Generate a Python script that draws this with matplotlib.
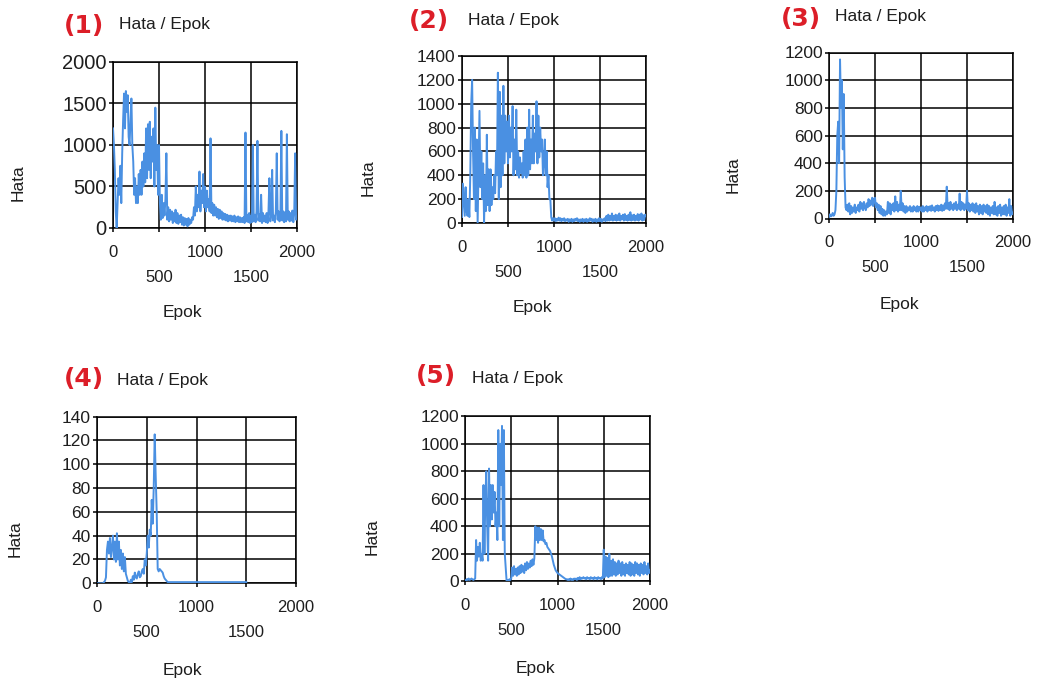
import matplotlib
matplotlib.use("Agg")
import matplotlib.pyplot as plt

plt.rcParams['font.family'] = ['Liberation Sans', 'DejaVu Sans']

# ---------------- data (one value every 10 epochs) ----------------
epochs_full = list(range(0, 2001, 10))
epochs_p4 = list(range(0, 1501, 10))

hata_1 = [1200, 1000, 700, 200, 0, 300, 600, 400, 750, 300,
          900, 1300, 1620, 1200, 1650, 1400, 1600, 1100, 1000, 1300,
          1560, 1000, 800, 400, 600, 300, 500, 300, 650, 400,
          700, 400, 800, 500, 900, 550, 1200, 600, 1250, 700,
          1280, 600, 1100, 800, 1200, 500, 1450, 700, 1000, 400,
          1000, 300, 100, 400, 120, 300, 150, 350, 900, 100,
          250, 80, 220, 100, 200, 60, 180, 80, 220, 60,
          180, 50, 150, 70, 160, 40, 130, 30, 120, 40,
          110, 20, 120, 40, 100, 60, 130, 100, 250, 150,
          500, 200, 400, 250, 680, 200, 450, 300, 650, 250,
          500, 200, 450, 250, 350, 200, 1080, 180, 300, 150,
          280, 150, 250, 130, 230, 110, 220, 120, 200, 100,
          180, 100, 170, 90, 160, 80, 150, 90, 150, 80,
          140, 80, 150, 70, 130, 80, 140, 70, 130, 70,
          120, 70, 130, 60, 1150, 80, 160, 70, 180, 60,
          150, 70, 1000, 80, 160, 70, 200, 1050, 90, 170,
          80, 400, 60, 180, 80, 150, 70, 180, 60, 200,
          600, 80, 170, 700, 90, 150, 70, 200, 900, 100,
          200, 80, 180, 1170, 90, 200, 70, 190, 80, 1130,
          100, 200, 80, 180, 90, 210, 70, 180, 900, 100,
          120]

hata_2 = [50, 330, 200, 60, 300, 100, 60, 200, 50, 400,
          1000, 1200, 600, 200, 800, 100, 700, 0, 500, 940,
          300, 600, 200, 500, 0, 400, 100, 740, 150, 450,
          100, 450, 150, 300, 200, 400, 250, 600, 400, 1260,
          200, 1100, 300, 900, 400, 1150, 500, 900, 600, 850,
          500, 900, 550, 800, 600, 980, 400, 700, 450, 950,
          400, 600, 380, 550, 420, 500, 380, 600, 400, 700,
          380, 800, 400, 950, 450, 700, 500, 900, 500, 750,
          600, 1020, 500, 900, 550, 800, 600, 700, 400, 500,
          700, 400, 600, 300, 400, 200, 200, 50, 20, 40,
          20, 40, 15, 35, 20, 45, 20, 40, 15, 35,
          20, 40, 15, 30, 20, 35, 10, 30, 15, 35,
          10, 30, 15, 35, 20, 40, 15, 30, 10, 30,
          15, 35, 10, 30, 15, 35, 10, 30, 15, 40,
          20, 35, 10, 30, 15, 35, 10, 30, 15, 40,
          15, 35, 10, 30, 20, 40, 15, 60, 20, 70,
          20, 60, 25, 80, 20, 60, 25, 70, 20, 65,
          25, 80, 20, 60, 30, 70, 20, 75, 25, 60,
          20, 70, 25, 90, 20, 65, 25, 70, 20, 60,
          25, 75, 20, 70, 30, 80, 20, 65, 25, 70,
          60]

hata_3 = [10, 30, 15, 20, 40, 20, 30, 60, 200, 600,
          700, 400, 1150, 800, 1000, 500, 900, 300, 80, 60,
          100, 50, 110, 30, 90, 40, 80, 50, 100, 40,
          80, 60, 100, 50, 120, 70, 110, 60, 120, 80,
          60, 110, 80, 140, 90, 130, 100, 150, 90, 140,
          150, 80, 110, 60, 100, 40, 90, 30, 70, 20,
          60, 20, 50, 30, 120, 40, 110, 30, 100, 60,
          110, 50, 160, 60, 120, 50, 100, 60, 200, 60,
          110, 50, 90, 40, 90, 50, 80, 60, 90, 50,
          80, 50, 90, 60, 80, 50, 90, 50, 85, 60,
          80, 50, 90, 50, 80, 60, 90, 50, 85, 60,
          90, 55, 95, 60, 80, 50, 90, 60, 95, 55,
          90, 60, 100, 55, 95, 60, 110, 70, 230, 70,
          110, 60, 120, 70, 100, 60, 110, 70, 120, 60,
          100, 70, 180, 60, 120, 70, 110, 60, 100, 70,
          200, 60, 110, 50, 100, 60, 110, 50, 100, 40,
          110, 50, 90, 30, 100, 40, 90, 30, 100, 50,
          90, 40, 100, 30, 90, 20, 80, 40, 90, 30,
          120, 30, 80, 20, 90, 40, 100, 20, 80, 30,
          90, 30, 100, 20, 80, 40, 140, 20, 90, 30,
          40]

hata_4 = [0, 0, 0, 0, 0, 0, 0, 1, 2, 5,
          28, 35, 25, 38, 22, 30, 40, 20, 35, 18,
          42, 20, 35, 15, 28, 12, 25, 10, 22, 8,
          5, 2, 1, 0, 3, 1, 6, 3, 9, 5,
          4, 8, 10, 5, 6, 10, 12, 8, 20, 15,
          25, 40, 30, 45, 40, 70, 50, 80, 125, 90,
          60, 12, 10, 12, 11, 10, 9, 6, 4, 3,
          2, 1, 1, 1, 1, 1, 1, 1, 1, 1,
          1, 1, 1, 1, 1, 1, 1, 1, 1, 1,
          1, 1, 1, 1, 1, 1, 1, 1, 1, 1,
          1, 1, 1, 1, 1, 1, 1, 1, 1, 1,
          1, 1, 1, 1, 1, 1, 1, 1, 1, 1,
          1, 1, 1, 1, 1, 1, 1, 1, 1, 1,
          1, 1, 1, 1, 1, 1, 1, 1, 1, 1,
          1, 1, 1, 1, 1, 1, 1, 1, 1, 1,
          1]

hata_5 = [0, 10, 15, 10, 20, 10, 15, 20, 15, 10,
          15, 20, 300, 150, 250, 180, 280, 150, 200, 150,
          700, 200, 600, 800, 400, 150, 820, 400, 700, 450,
          700, 500, 650, 400, 500, 300, 1100, 400, 1000, 700,
          1130, 300, 1100, 200, 100, 0, 10, 5, 15, 10,
          20, 100, 40, 110, 50, 90, 40, 100, 50, 110,
          60, 120, 70, 110, 60, 130, 80, 140, 90, 130,
          100, 150, 110, 160, 120, 170, 400, 300, 390, 280,
          390, 300, 380, 300, 370, 290, 300, 270, 280, 250,
          240, 230, 220, 200, 180, 150, 120, 100, 80, 70,
          60, 55, 50, 45, 40, 35, 30, 25, 20, 15,
          15, 10, 15, 10, 20, 10, 15, 10, 20, 15,
          20, 10, 25, 15, 30, 15, 25, 20, 30, 20,
          25, 15, 30, 20, 25, 15, 30, 20, 25, 15,
          30, 20, 25, 15, 30, 20, 25, 15, 30, 20,
          230, 30, 180, 40, 170, 30, 200, 40, 150, 40,
          160, 50, 140, 40, 130, 50, 150, 60, 130, 40,
          140, 50, 120, 40, 130, 60, 120, 50, 140, 40,
          130, 50, 120, 40, 140, 60, 130, 50, 120, 40,
          130, 60, 120, 50, 140, 60, 110, 50, 130, 60,
          80]

x_ticks = [0, 500, 1000, 1500, 2000]
x_ticklabels = ['0', '500', '1000', '1500', '2000']
yticks_1 = [0, 500, 1000, 1500, 2000]
yticks_2 = [0, 200, 400, 600, 800, 1000, 1200, 1400]
yticks_3 = [0, 200, 400, 600, 800, 1000, 1200]
yticks_4 = [0, 20, 40, 60, 80, 100, 120, 140]
yticks_5 = [0, 200, 400, 600, 800, 1000, 1200]

panel_tags = ['(1)', '(2)', '(3)', '(4)', '(5)']
title_text = 'Hata / Epok'
ylabel_text = 'Hata'
xlabel_text = 'Epok'

# ---------------- layout ----------------
W, H = 1039, 684
fig = plt.figure(figsize=(W / 100, H / 100), dpi=100)
fig.patch.set_facecolor('white')

LINE = '#4a90e2'
RED = '#dc1e28'
TXT = '#1e1e1e'


def fx(x):
    return x / W


def fy(y):
    return 1 - y / H


panels = [
    dict(x=epochs_full, y=hata_1, yt=yticks_1, box=(113, 62, 297, 228), ytfs=14.5,
         tag=(84, 26), title=(119, 25), ylab=(18, 183), xlab=(182, 312)),
    dict(x=epochs_full, y=hata_2, yt=yticks_2, box=(462, 56, 646, 223), ytfs=12.5,
         tag=(429, 21), title=(468, 20), ylab=(368, 178), xlab=(532, 308)),
    dict(x=epochs_full, y=hata_3, yt=yticks_3, box=(829, 52.5, 1013, 218.5), ytfs=12.5,
         tag=(801, 19), title=(835, 17), ylab=(733, 175), xlab=(899, 305)),
    dict(x=epochs_p4, y=hata_4, yt=yticks_4, box=(97, 416.5, 296, 583.3), ytfs=12.5,
         tag=(84, 379), title=(117, 381), ylab=(15, 539), xlab=(182, 671)),
    dict(x=epochs_full, y=hata_5, yt=yticks_5, box=(465, 416.3, 650, 581.3), ytfs=12.5,
         tag=(436, 376), title=(472, 378), ylab=(372, 537), xlab=(535, 668)),
]

for i, p in enumerate(panels):
    l, t, r, b = p['box']
    ax = fig.add_axes([fx(l), fy(b), fx(r) - fx(l), (b - t) / H])
    ax.plot(p['x'], p['y'], color=LINE, lw=1.4, zorder=3)
    ax.set_xlim(0, 2000)
    ax.set_ylim(p['yt'][0], p['yt'][-1])
    ax.set_xticks(x_ticks)
    ax.set_xticklabels(x_ticklabels)
    ax.set_yticks(p['yt'])
    ax.set_yticklabels([str(v) for v in p['yt']])
    ax.grid(True, color='black', lw=1.1, zorder=1)
    for s in ax.spines.values():
        s.set_color('black')
        s.set_linewidth(1.1)
    ax.tick_params(axis='both', direction='out', length=3, width=1.1, color='black',
                   labelcolor=TXT)
    ax.tick_params(axis='x', labelsize=12)
    ax.tick_params(axis='y', labelsize=p['ytfs'], pad=1.5)
    for k, tk in enumerate(ax.xaxis.get_major_ticks()):
        tk.set_pad(9 if k % 2 == 0 else 27)

    fig.text(fx(p['tag'][0]), fy(p['tag'][1]), panel_tags[i], color=RED,
             fontsize=18, fontweight='bold', family=['DejaVu Sans'],
             ha='center', va='center')
    fig.text(fx(p['title'][0]), fy(p['title'][1]), title_text, color=TXT,
             fontsize=12.5, ha='left', va='center')
    fig.text(fx(p['ylab'][0]), fy(p['ylab'][1]), ylabel_text, color=TXT,
             fontsize=12.5, rotation=90, ha='center', va='center')
    fig.text(fx(p['xlab'][0]), fy(p['xlab'][1]), xlabel_text, color=TXT,
             fontsize=12.5, ha='center', va='center')

fig.savefig('out.png', dpi=100, facecolor='white')
